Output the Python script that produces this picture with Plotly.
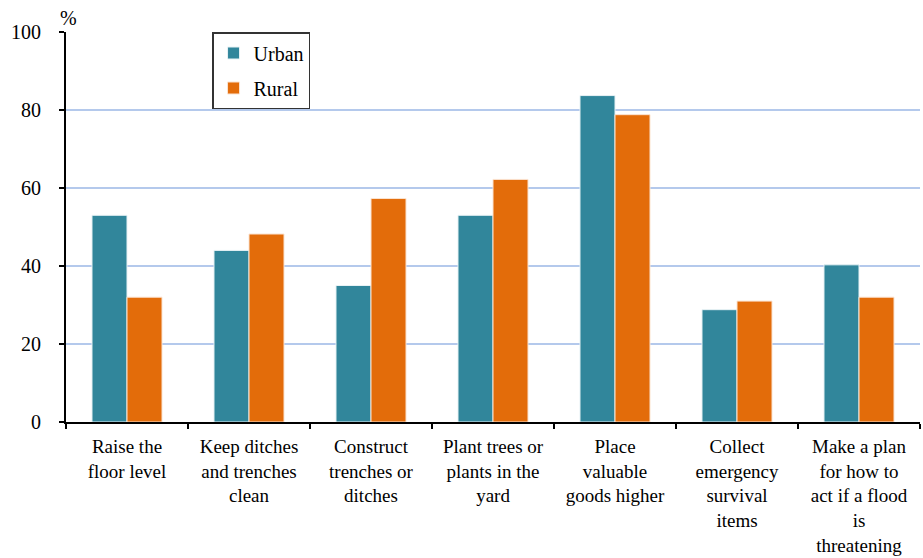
import plotly.graph_objects as go

categories = [
    "Raise the<br>floor level",
    "Keep ditches<br>and trenches<br>clean",
    "Construct<br>trenches or<br>ditches",
    "Plant trees or<br>plants in the<br>yard",
    "Place<br>valuable<br>goods higher",
    "Collect<br>emergency<br>survival<br>items",
    "Make a plan<br>for how to<br>act if a flood<br>is<br>threatening",
]
urban = [53, 44, 35, 53, 83.7, 28.8, 40.3]
rural = [32, 48.2, 57.3, 62.2, 78.8, 31, 32]
y_ticks = [0, 20, 40, 60, 80, 100]

FONT = "Times New Roman, Liberation Serif, serif"

fig = go.Figure()
fig.add_trace(go.Bar(name="Urban", x=categories, y=urban, legendgroup="u",
                     marker=dict(color="#31869b", line=dict(color="#e8f2f5", width=1))))
fig.add_trace(go.Bar(name="Rural", x=categories, y=rural, legendgroup="r",
                     marker=dict(color="#e36c0a", line=dict(color="#fbe3d0", width=1))))

fig.update_layout(
    width=923, height=558,
    margin=dict(l=66, r=3, t=32, b=136),
    paper_bgcolor="white", plot_bgcolor="white",
    font=dict(family=FONT, size=20, color="black"),
    barmode="group", bargap=0.426, bargroupgap=0,
    legend=dict(x=0.171, y=1.0, xanchor="left", yanchor="top",
                bgcolor="white", bordercolor="#333333", borderwidth=1.5,
                font=dict(family=FONT, size=20), tracegroupgap=6,
                itemwidth=30),
    showlegend=True,
)
fig.update_xaxes(
    type="category", showline=True, linecolor="black", linewidth=2,
    ticks="outside", tickson="boundaries", ticklen=5, tickwidth=1.5, tickcolor="black",
    showgrid=False, tickangle=0, ticklabelstandoff=6, automargin=False,
    tickfont=dict(family=FONT, size=19, color="black"),
)
fig.update_yaxes(
    range=[0, 100], tickvals=y_ticks, showline=True, linecolor="black", linewidth=2,
    ticks="outside", ticklen=5, tickwidth=1.5, tickcolor="black",
    showgrid=True, gridcolor="#b4c9ec", gridwidth=1.5, zeroline=False,
    ticklabelstandoff=14, automargin=False,
)
fig.add_annotation(text="%", xref="paper", yref="paper", x=0, y=1, xanchor="center",
                   yanchor="bottom", yshift=1, xshift=2, showarrow=False,
                   font=dict(family=FONT, size=20, color="black"))
fig.write_html("out.html")
